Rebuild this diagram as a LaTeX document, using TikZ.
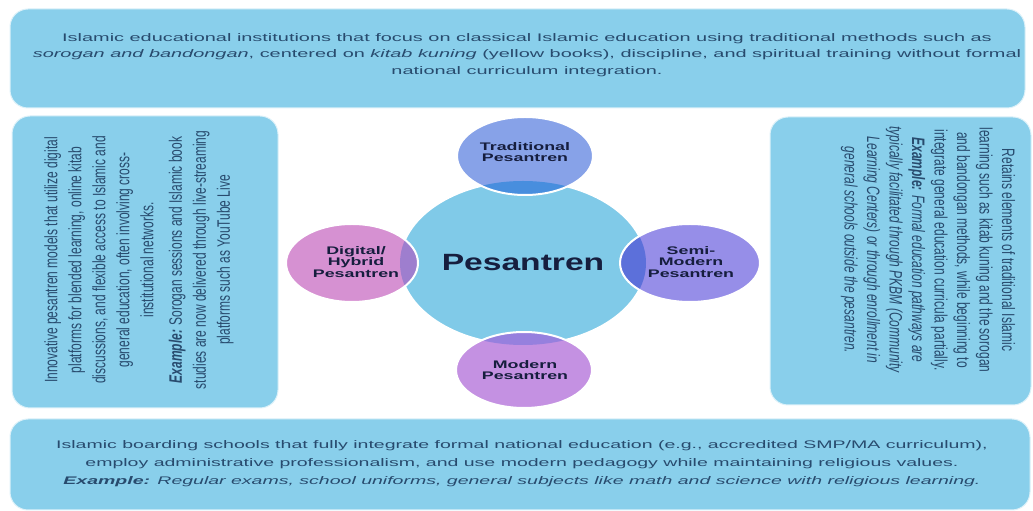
\documentclass[tikz,border=0pt]{standalone}
\usepackage{fontspec}
\setmainfont{Liberation Sans}
\usepackage{tikz}

\definecolor{skybox}{RGB}{137,207,235}
\definecolor{hubblue}{RGB}{128,202,232}
\definecolor{inkblue}{RGB}{40,75,110}
\definecolor{navy1}{RGB}{22,30,62}
\definecolor{tradfill}{RGB}{135,162,232}
\definecolor{tradshade}{RGB}{72,142,222}
\definecolor{semifill}{RGB}{150,142,232}
\definecolor{semishade}{RGB}{92,112,218}
\definecolor{modfill}{RGB}{196,145,226}
\definecolor{modshade}{RGB}{150,128,222}
\definecolor{digifill}{RGB}{214,145,210}
\definecolor{digishade}{RGB}{158,126,206}

\tikzset{
  descbox/.style={fill=skybox, draw=white!70!skybox, line width=1pt, rounded corners=18pt},
  desctext/.style={text=inkblue, align=center, inner sep=0pt, xscale=1.81,
    font=\fontsize{11}{16.5}\selectfont},
  sidetext/.style={text=inkblue, align=center, inner sep=0pt, xscale=1.5,
    font=\fontsize{12}{16}\selectfont},
  ring/.style={draw=white, line width=2pt},
  ringlabel/.style={text=navy1, align=center, inner sep=0pt, xscale=1.62,
    font=\bfseries\fontsize{11}{11.5}\selectfont},
  hublabel/.style={text=navy1, inner sep=0pt, xscale=1.43,
    font=\bfseries\fontsize{23.5}{24}\selectfont}
}

\begin{document}
\begin{tikzpicture}[x=1pt, y=1pt]
  \useasboundingbox (0,0) rectangle (1033,511);

  % the four description panels
  \draw[descbox] (10,403) rectangle (1025,502);
  \draw[descbox] (12,103) rectangle (278,395);
  \draw[descbox] (770,106) rectangle (1031,394);
  \draw[descbox] (10,1) rectangle (1030,92);

  % central ellipse
  \fill[hubblue] (523,248) ellipse [x radius=123, y radius=82];
  \draw[ring] (523,248) ellipse [x radius=123, y radius=82];

  % the four types
  \fill[tradfill] (525,355) ellipse [x radius=68, y radius=39];
  \fill[semifill] (690,248) ellipse [x radius=70, y radius=39];
  \fill[modfill] (524,141) ellipse [x radius=68, y radius=38];
  \fill[digifill] (352,248) ellipse [x radius=66, y radius=39];
  \begin{scope}
    \clip (523,248) ellipse [x radius=123, y radius=82];
    \fill[tradshade] (525,355) ellipse [x radius=68, y radius=39];
    \fill[semishade] (690,248) ellipse [x radius=70, y radius=39];
    \fill[modshade] (524,141) ellipse [x radius=68, y radius=38];
    \fill[digishade] (352,248) ellipse [x radius=66, y radius=39];
  \end{scope}
  \draw[ring] (525,355) ellipse [x radius=68, y radius=39];
  \draw[ring] (690,248) ellipse [x radius=70, y radius=39];
  \draw[ring] (524,141) ellipse [x radius=68, y radius=38];
  \draw[ring] (352,248) ellipse [x radius=66, y radius=39];

  \node[hublabel] (hub) at (523,248) {Pesantren};
  \node[ringlabel] (tradlabel) at (525,359) {Traditional\\Pesantren};
  \node[ringlabel] (semilabel) at (691,249) {Semi-\\Modern\\Pesantren};
  \node[ringlabel] (modlabel) at (525,141) {Modern\\Pesantren};
  \node[ringlabel] (digilabel) at (356,249) {Digital/\\Hybrid\\Pesantren};

  % panel texts
  \node[desctext] (tradtext) at (527,456) {Islamic educational institutions that focus on classical Islamic education using traditional methods such as\\
    \textit{sorogan and bandongan}, centered on \textit{kitab kuning} (yellow books), discipline, and spiritual training without formal\\
    national curriculum integration.};
  \node[sidetext, rotate=90] (digitext) at (139,251) {Innovative pesantren models that utilize digital\\
    platforms for blended learning, online kitab\\
    discussions, and flexible access to Islamic and\\
    general education, often involving cross-\\
    institutional networks.\\[3pt]
    \textbf{\textit{Example:}} Sorogan sessions and Islamic book\\
    studies are now delivered through live-streaming\\
    platforms such as YouTube Live};
  \node[sidetext, rotate=-90, font=\fontsize{12}{15}\selectfont] (semitext) at (928,261) {Retains elements of traditional Islamic\\
    learning such as kitab kuning and the sorogan\\
    and bandongan methods, while beginning to\\
    integrate general education curricula partially.\\
    \textbf{\textit{Example:}} \textit{Formal education pathways are}\\
    \textit{typically facilitated through PKBM (Community}\\
    \textit{Learning Centers) or through enrollment in}\\
    \textit{general schools outside the pesantren.}};
  \node[desctext, xscale=0.98, font=\fontsize{11}{18}\selectfont] (modtext) at (522,47) {Islamic boarding schools that fully integrate formal national education (e.g., accredited SMP/MA curriculum),\\
    employ administrative professionalism, and use modern pedagogy while maintaining religious values.\\
    \textbf{\textit{Example:}} \textit{Regular exams, school uniforms, general subjects like math and science with religious learning.}};
\end{tikzpicture}
\end{document}
